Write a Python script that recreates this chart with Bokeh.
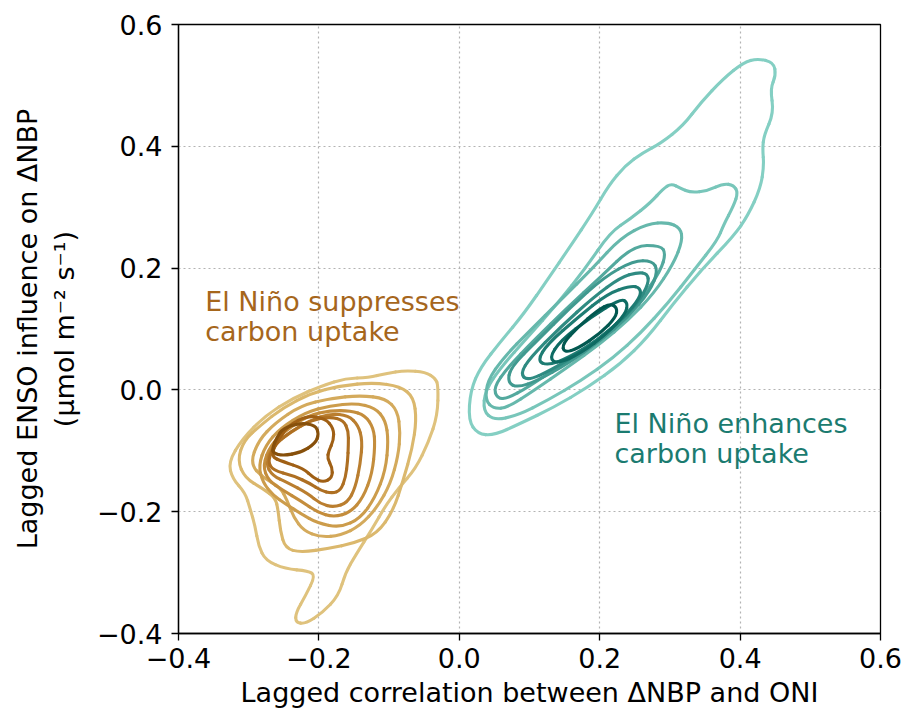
from bokeh.plotting import figure
from bokeh.models import Range1d, FixedTicker, CustomJSTickFormatter, Label, ColumnDataSource
from bokeh.embed import file_html
from bokeh.resources import INLINE

# ---------------- data (KDE contour rings) ----------------
# "El Nino suppresses carbon uptake" group (brown), outer -> inner
B1_X = [-0.034, -0.048, -0.077, -0.105, -0.129, -0.162, -0.195, -0.238, -0.276, -0.309, -0.329, -0.323,
        -0.305, -0.298, -0.291, -0.286, -0.276, -0.248, -0.215, -0.205, -0.219, -0.233, -0.233, -0.219,
        -0.195, -0.172, -0.162, -0.148, -0.124, -0.105, -0.087, -0.062, -0.044, -0.031, -0.030]
B1_Y = [0.019, 0.029, 0.032, 0.027, 0.020, 0.019, 0.007, -0.014, -0.042, -0.080, -0.119, -0.146,
        -0.169, -0.195, -0.223, -0.256, -0.280, -0.294, -0.297, -0.305, -0.338, -0.366, -0.382, -0.384,
        -0.366, -0.338, -0.300, -0.272, -0.228, -0.190, -0.162, -0.129, -0.086, -0.042, 0.007]
B2_X = [-0.316, -0.307, -0.283, -0.251, -0.212, -0.169, -0.122, -0.084, -0.065, -0.061, -0.067, -0.080,
        -0.094, -0.117, -0.151, -0.184, -0.226, -0.248, -0.255, -0.258, -0.262, -0.280, -0.305]
B2_Y = [-0.116, -0.083, -0.058, -0.029, -0.006, 0.007, 0.012, 0.006, -0.012, -0.050, -0.096, -0.149,
        -0.198, -0.236, -0.252, -0.260, -0.267, -0.260, -0.231, -0.198, -0.177, -0.162, -0.145]
B3_X = [-0.298, -0.286, -0.262, -0.226, -0.184, -0.141, -0.105, -0.088, -0.084, -0.087, -0.098, -0.117,
        -0.141, -0.169, -0.198, -0.222, -0.236, -0.245, -0.255, -0.280]
B3_Y = [-0.121, -0.083, -0.054, -0.026, -0.014, -0.009, -0.014, -0.034, -0.070, -0.108, -0.154, -0.193,
        -0.223, -0.239, -0.242, -0.231, -0.209, -0.182, -0.160, -0.144]
B4_X = [-0.286, -0.276, -0.255, -0.219, -0.184, -0.148, -0.120, -0.105, -0.101, -0.105, -0.120, -0.141,
        -0.169, -0.202, -0.226, -0.248, -0.265, -0.280]
B4_Y = [-0.124, -0.091, -0.063, -0.037, -0.026, -0.022, -0.029, -0.050, -0.083, -0.132, -0.177, -0.211,
        -0.226, -0.219, -0.203, -0.187, -0.173, -0.152]
B5_X = [-0.280, -0.269, -0.248, -0.215, -0.184, -0.155, -0.134, -0.122, -0.120, -0.124, -0.137, -0.155,
        -0.179, -0.202, -0.226, -0.251, -0.272]
B5_Y = [-0.124, -0.091, -0.067, -0.042, -0.034, -0.034, -0.042, -0.063, -0.091, -0.137, -0.177, -0.201,
        -0.209, -0.201, -0.182, -0.165, -0.149]
B6_X = [-0.276, -0.265, -0.241, -0.212, -0.184, -0.158, -0.144, -0.138, -0.141, -0.148, -0.159, -0.179,
        -0.198, -0.216, -0.245, -0.266]
B6_Y = [-0.121, -0.091, -0.070, -0.050, -0.039, -0.042, -0.058, -0.083, -0.121, -0.160, -0.185, -0.193,
        -0.187, -0.170, -0.152, -0.141]
B7_X = [-0.273, -0.262, -0.238, -0.212, -0.184, -0.165, -0.158, -0.158, -0.159, -0.162, -0.169, -0.181,
        -0.198, -0.212, -0.236, -0.266]
B7_Y = [-0.116, -0.088, -0.067, -0.050, -0.044, -0.050, -0.067, -0.091, -0.116, -0.144, -0.165, -0.170,
        -0.165, -0.154, -0.141, -0.132]
B8_X = [-0.269, -0.259, -0.243, -0.216, -0.191, -0.179, -0.179, -0.186, -0.188, -0.181, -0.181, -0.194,
        -0.208, -0.222, -0.251]
B8_Y = [-0.109, -0.083, -0.058, -0.042, -0.047, -0.063, -0.083, -0.100, -0.113, -0.127, -0.144, -0.152,
        -0.144, -0.129, -0.118]
B9_X = [-0.266, -0.260, -0.251, -0.226, -0.205, -0.200, -0.205, -0.226, -0.251, -0.265]
B9_Y = [-0.095, -0.078, -0.063, -0.054, -0.058, -0.072, -0.088, -0.103, -0.108, -0.104]

# "El Nino enhances carbon uptake" group (teal), outer -> inner
T1_X = [0.425, 0.448, 0.451, 0.443, 0.448, 0.434, 0.432, 0.434, 0.429, 0.411, 0.391, 0.344, 0.305,
        0.268, 0.230, 0.183, 0.134, 0.087, 0.049, 0.026, 0.013, 0.016, 0.030, 0.060, 0.092, 0.128,
        0.157, 0.190, 0.213, 0.236, 0.262, 0.287, 0.319, 0.344, 0.376, 0.405]
T1_Y = [0.544, 0.538, 0.516, 0.495, 0.455, 0.418, 0.396, 0.368, 0.331, 0.286, 0.253, 0.196, 0.142,
        0.086, 0.043, 0.004, -0.029, -0.055, -0.075, -0.072, -0.050, -0.001, 0.037, 0.081, 0.125, 0.185,
        0.234, 0.291, 0.336, 0.368, 0.390, 0.405, 0.434, 0.472, 0.511, 0.538]
T2_X = [0.302, 0.315, 0.330, 0.354, 0.376, 0.391, 0.397, 0.391, 0.376, 0.368, 0.334, 0.297, 0.258,
        0.220, 0.173, 0.126, 0.083, 0.049, 0.034, 0.037, 0.059, 0.097, 0.140, 0.180, 0.215, 0.244,
        0.273, 0.290]
T2_Y = [0.339, 0.331, 0.324, 0.327, 0.339, 0.336, 0.324, 0.303, 0.270, 0.246, 0.196, 0.142, 0.093,
        0.053, 0.015, -0.017, -0.042, -0.050, -0.034, -0.001, 0.037, 0.086, 0.142, 0.200, 0.259, 0.281,
        0.308, 0.330]
T3_X = [0.268, 0.297, 0.315, 0.318, 0.305, 0.277, 0.240, 0.201, 0.154, 0.106, 0.069, 0.049, 0.037,
        0.040, 0.063, 0.101, 0.144, 0.191, 0.230]
T3_Y = [0.273, 0.275, 0.266, 0.245, 0.207, 0.158, 0.114, 0.076, 0.037, -0.001, -0.029, -0.031, -0.017,
        0.015, 0.053, 0.098, 0.147, 0.201, 0.250]
T4_X = [0.248, 0.287, 0.294, 0.287, 0.258, 0.220, 0.183, 0.140, 0.097, 0.069, 0.054, 0.049, 0.069,
        0.106, 0.154, 0.201]
T4_Y = [0.237, 0.237, 0.224, 0.196, 0.147, 0.103, 0.070, 0.037, 0.004, -0.014, -0.014, 0.004, 0.037,
        0.081, 0.135, 0.185]
T5_X = [0.248, 0.275, 0.283, 0.272, 0.240, 0.201, 0.154, 0.111, 0.083, 0.069, 0.073, 0.111, 0.158, 0.206]
T5_Y = [0.212, 0.212, 0.196, 0.163, 0.119, 0.081, 0.043, 0.015, 0.004, 0.012, 0.037, 0.081, 0.135, 0.185]
T6_X = [0.254, 0.268, 0.270, 0.254, 0.220, 0.177, 0.130, 0.097, 0.087, 0.101, 0.144, 0.191, 0.230]
T6_Y = [0.193, 0.191, 0.175, 0.142, 0.103, 0.065, 0.032, 0.015, 0.027, 0.053, 0.103, 0.152, 0.185]
T7_X = [0.244, 0.258, 0.258, 0.234, 0.197, 0.154, 0.126, 0.111, 0.126, 0.169, 0.211]
T7_Y = [0.171, 0.168, 0.152, 0.119, 0.081, 0.052, 0.040, 0.048, 0.076, 0.119, 0.158]
T8_X = [0.230, 0.240, 0.237, 0.211, 0.173, 0.140, 0.128, 0.144, 0.187]
T8_Y = [0.150, 0.143, 0.125, 0.093, 0.060, 0.043, 0.052, 0.081, 0.119]
T9_X = [0.215, 0.225, 0.223, 0.201, 0.169, 0.149, 0.147, 0.169, 0.197]
T9_Y = [0.142, 0.135, 0.119, 0.093, 0.068, 0.061, 0.076, 0.103, 0.131]

X_TICKS = [-0.4, -0.2, 0.0, 0.2, 0.4, 0.6]
Y_TICKS = [-0.4, -0.2, 0.0, 0.2, 0.4, 0.6]
X_LABEL = "Lagged correlation between \u0394NBP and ONI"
Y_LABEL = "Lagged ENSO influence on \u0394NBP\n(\u03bcmol m\u207b\u00b2 s\u207b\u00b9)"
TEXT_SUPPRESS = ["El Ni\u00f1o suppresses", "carbon uptake"]
TEXT_ENHANCE = ["El Ni\u00f1o enhances", "carbon uptake"]

BROWN_RINGS = [(B1_X, B1_Y), (B2_X, B2_Y), (B3_X, B3_Y), (B4_X, B4_Y), (B5_X, B5_Y),
               (B6_X, B6_Y), (B7_X, B7_Y), (B8_X, B8_Y), (B9_X, B9_Y)]
TEAL_RINGS = [(T1_X, T1_Y), (T2_X, T2_Y), (T3_X, T3_Y), (T4_X, T4_Y), (T5_X, T5_Y),
              (T6_X, T6_Y), (T7_X, T7_Y), (T8_X, T8_Y), (T9_X, T9_Y)]

# ---------------- styles ----------------
BROWN_COLORS = ["#dfc27d", "#dbb86d", "#d4aa5c", "#cc9c4b", "#c48d3c", "#ba7e2f", "#ae6f22", "#a06015", "#87500b"]
TEAL_COLORS = ["#84cfc3", "#78c6ba", "#66b8ac", "#53a99e", "#419a90", "#2f8b82", "#1e7c73", "#0e6b63", "#025850"]
FONT = "DejaVu Sans"


def smooth_source(xs, ys):
    """closed ring drawn as chained quadratic curves through the ring's midpoints"""
    n = len(xs)
    d = dict(x0=[], y0=[], x1=[], y1=[], cx=[], cy=[])
    for i in range(n):
        xp, yp = xs[i - 1], ys[i - 1]
        xc, yc = xs[i], ys[i]
        xn, yn = xs[(i + 1) % n], ys[(i + 1) % n]
        d["x0"].append((xp + xc) / 2)
        d["y0"].append((yp + yc) / 2)
        d["x1"].append((xc + xn) / 2)
        d["y1"].append((yc + yn) / 2)
        d["cx"].append(xc)
        d["cy"].append(yc)
    return ColumnDataSource(d)


p = figure(frame_width=702, frame_height=609, min_border_left=178, min_border_right=26,
           min_border_top=24, min_border_bottom=80,
           x_range=Range1d(-0.4, 0.6), y_range=Range1d(-0.4, 0.6),
           output_backend="svg", toolbar_location=None,
           background_fill_color="white", border_fill_color="white")

p.outline_line_color = "black"
p.outline_line_width = 1.3

for (xs, ys), c in zip(BROWN_RINGS, BROWN_COLORS):
    p.quadratic(x0="x0", y0="y0", x1="x1", y1="y1", cx="cx", cy="cy", source=smooth_source(xs, ys),
                line_color=c, line_width=3.1, line_cap="round")
for (xs, ys), c in zip(TEAL_RINGS, TEAL_COLORS):
    p.quadratic(x0="x0", y0="y0", x1="x1", y1="y1", cx="cx", cy="cy", source=smooth_source(xs, ys),
                line_color=c, line_width=3.1, line_cap="round")

fmt = CustomJSTickFormatter(code="return (tick < -1e-9 ? '\u2212' : '') + Math.abs(tick).toFixed(1);")
p.xaxis.ticker = FixedTicker(ticks=X_TICKS)
p.yaxis.ticker = FixedTicker(ticks=Y_TICKS)
p.xgrid.ticker = FixedTicker(ticks=X_TICKS)
p.ygrid.ticker = FixedTicker(ticks=Y_TICKS)
for ax in (p.xaxis, p.yaxis):
    ax.formatter = fmt
    ax.axis_line_color = "black"
    ax.axis_line_width = 1.3
    ax.major_tick_line_color = "black"
    ax.major_tick_line_width = 1.3
    ax.major_tick_in = 0
    ax.major_tick_out = 7
    ax.minor_tick_line_color = None
    ax.major_label_text_font = FONT
    ax.major_label_text_font_size = "27px"
    ax.major_label_text_color = "black"
    ax.axis_label_text_font = FONT
    ax.axis_label_text_font_size = "27px"
    ax.axis_label_text_font_style = "normal"
    ax.axis_label_text_color = "black"
p.xaxis.axis_label = X_LABEL
p.yaxis.axis_label = Y_LABEL
p.xaxis.major_label_standoff = 7
p.yaxis.major_label_standoff = 9
p.xaxis.axis_label_standoff = 6
p.yaxis.axis_label_standoff = 14

p.grid.grid_line_color = "#b3b3b3"
p.grid.grid_line_dash = "2 3"
p.grid.grid_line_width = 1.2

for txt, yy in zip(TEXT_SUPPRESS, [0.145, 0.096]):
    p.add_layout(Label(x=-0.362, y=yy, text=txt, text_color="#a6661c", text_font=FONT,
                       text_font_size="27px", text_baseline="alphabetic", text_align="left"))
for txt, yy in zip(TEXT_ENHANCE, [-0.055, -0.105]):
    p.add_layout(Label(x=0.221, y=yy, text=txt, text_color="#1b7b70", text_font=FONT,
                       text_font_size="27px", text_baseline="alphabetic", text_align="left"))

open("out.html", "w").write(file_html(p, INLINE))
